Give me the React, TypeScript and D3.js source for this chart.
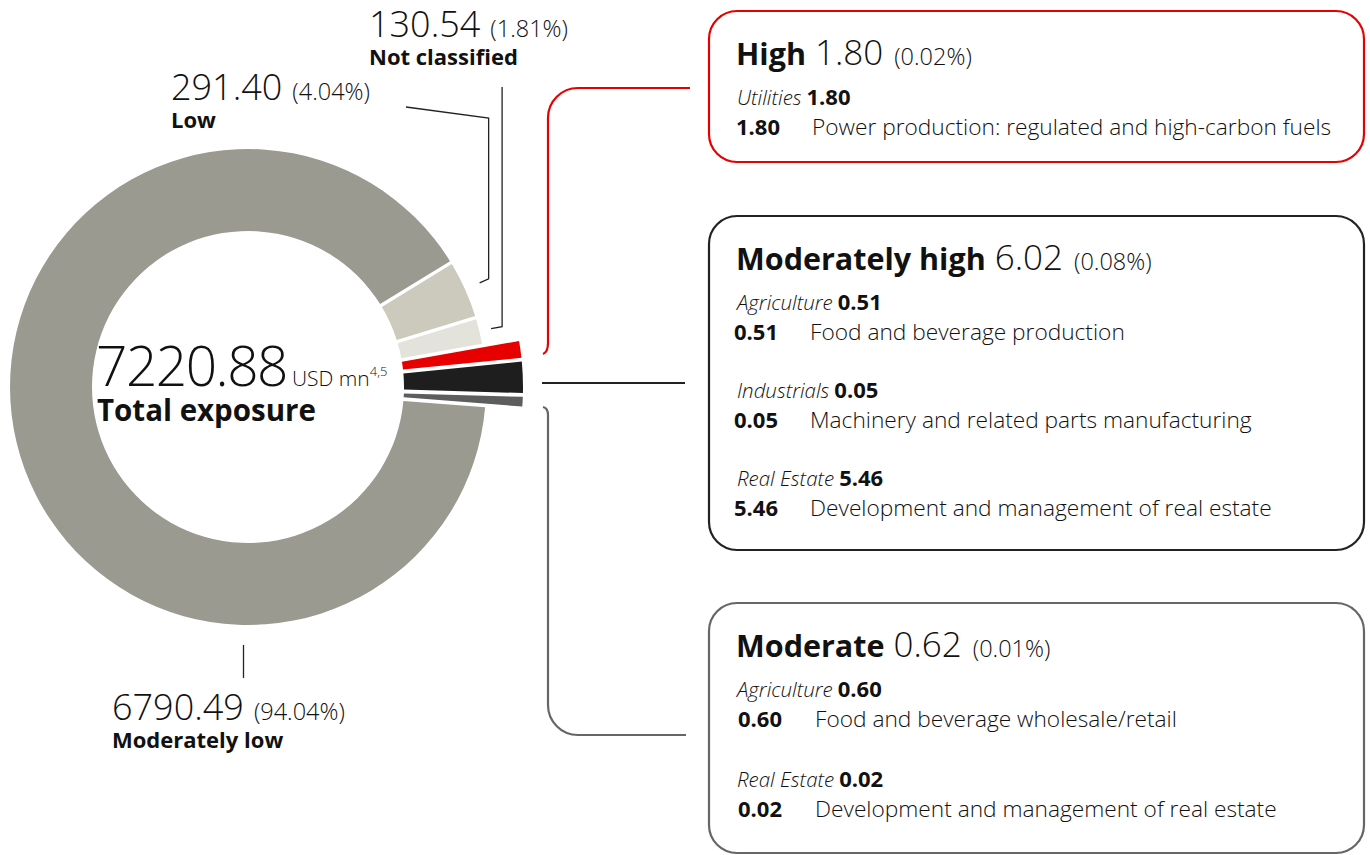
import React, { useEffect, useRef } from "react";
import * as d3 from "d3";

// exposure by climate risk rating, USD mn
const categories = ["Low", "Not classified", "High", "Moderately high", "Moderate", "Moderately low"];
const exposures = [291.4, 130.54, 1.8, 6.02, 0.62, 6790.49];
const shares = ["4.04%", "1.81%", "0.02%", "0.08%", "0.01%", "94.04%"];
const sliceColors = ["#cbcabd", "#e3e3dc", "#e60000", "#1e1e1e", "#5b5e5d", "#9a9a91"];
const totalExposure = "7220.88";

// breakdown boxes
const highSectors = ["Utilities"];
const highValues = ["1.80"];
const highActivities = ["Power production: regulated and high-carbon fuels"];
const modHighSectors = ["Agriculture", "Industrials", "Real Estate"];
const modHighValues = ["0.51", "0.05", "5.46"];
const modHighActivities = [
  "Food and beverage production",
  "Machinery and related parts manufacturing",
  "Development and management of real estate",
];
const moderateSectors = ["Agriculture", "Real Estate"];
const moderateValues = ["0.60", "0.02"];
const moderateActivities = ["Food and beverage wholesale/retail", "Development and management of real estate"];

const FONT = "'Open Sans', 'Noto Sans', sans-serif";

export default function App() {
  const ref = useRef<SVGSVGElement>(null);

  useEffect(() => {
    document.body.style.margin = "0";
    const svg = d3.select(ref.current);
    svg.selectAll("*").remove();
    svg.style("font-family", FONT);

    const cx = 248;
    const cy = 387;
    const inner = 156;
    const outer = 238;
    const outerSmall = 275;
    const deg = Math.PI / 180;

    // tiny ratings are drawn enlarged so they stay visible
    const boost = d3.scaleSqrt().domain([0, 6.02]).range([0, 140]);
    const isSmall = (v: number) => v < 10;
    const start = 58.5 * deg;
    const pie = d3
      .pie<number>()
      .sort(null)
      .value((v) => (isSmall(v) ? boost(v) : v))
      .startAngle(start)
      .endAngle(start + 2 * Math.PI)
      .padAngle(0.012);
    const arcs = pie(exposures);
    const arc = d3
      .arc<d3.PieArcDatum<number>>()
      .innerRadius(inner)
      .outerRadius((d) => (isSmall(d.data) ? outerSmall : outer));

    const donut = svg.append("g").attr("transform", `translate(${cx},${cy})`);
    donut
      .selectAll("path")
      .data(arcs)
      .join("path")
      .attr("d", arc)
      .attr("fill", (d, i) => sliceColors[i]);

    const polar = (a: number, r: number) => [cx + r * Math.sin(a), cy - r * Math.cos(a)];
    const mid = (d: d3.PieArcDatum<number>) => (d.startAngle + d.endAngle) / 2;

    // leader lines
    const lowEnd = polar(mid(arcs[0]), outer + 16);
    const ncEnd = polar(mid(arcs[1]), outer + 12);
    const mlowEnd = polar(Math.PI + 1 * deg, outer + 20);
    const leader = svg.append("g").attr("fill", "none").attr("stroke", "#222").attr("stroke-width", 1.3);
    leader.append("path").attr("d", `M406,107 L${lowEnd[0] + 9},118 V${lowEnd[1] - 4} L${lowEnd[0]},${lowEnd[1]}`);
    leader.append("path").attr("d", `M${ncEnd[0] + 11},87 V${ncEnd[1] - 2} L${ncEnd[0]},${ncEnd[1]}`);
    leader.append("path").attr("d", `M${mlowEnd[0]},${mlowEnd[1]} V${mlowEnd[1] + 33}`);

    // value + share + name label
    const sliceLabel = (i: number, x: number, y: number) => {
      const t = svg.append("text").attr("x", x).attr("y", y).attr("fill", "#111");
      t.append("tspan").attr("font-size", 36).attr("font-weight", 300).text(exposures[i].toFixed(2));
      t.append("tspan").attr("font-size", 23.5).attr("font-weight", 300).attr("dx", 10).text(`(${shares[i]})`);
      svg
        .append("text")
        .attr("x", x)
        .attr("y", y + 28)
        .attr("font-size", 22)
        .attr("font-weight", 700)
        .attr("fill", "#111")
        .text(categories[i]);
    };
    sliceLabel(0, 171, 100);
    sliceLabel(1, 369, 37);
    sliceLabel(5, 112, 720);

    // centre total
    const tot = svg.append("text").attr("x", 96).attr("y", 386).attr("fill", "#111");
    tot.append("tspan").attr("font-size", 55).attr("font-weight", 300).attr("letter-spacing", -1.5).text(totalExposure);
    tot.append("tspan").attr("font-size", 21).attr("font-weight", 300).attr("dx", 5).text("USD mn");
    tot.append("tspan").attr("font-size", 13).attr("font-weight", 300).attr("dy", -10).text("4,5");
    svg
      .append("text")
      .attr("x", 97)
      .attr("y", 421)
      .attr("font-size", 29.5)
      .attr("font-weight", 700)
      .attr("fill", "#111")
      .text("Total exposure");

    // connectors to the boxes
    const conn = svg.append("g").attr("fill", "none").attr("stroke-width", 2.2);
    conn.append("path").attr("stroke", "#e60000").attr("d", "M690,88 H578 A30,30 0 0 0 548,118 V343 Q548,352 543,354");
    conn.append("path").attr("stroke", "#222").attr("d", "M542,383 H685");
    conn.append("path").attr("stroke", "#666").attr("d", "M543,407 Q548,408 548,415 V705 A30,30 0 0 0 578,735 H686");

    // breakdown boxes
    const box = (
      y: number,
      h: number,
      color: string,
      idx: number,
      sectors: string[],
      values: string[],
      acts: string[],
      titleY: number,
      firstY: number,
      step: number,
      numX: number,
      actX: number
    ) => {
      svg
        .append("rect")
        .attr("x", 709)
        .attr("y", y)
        .attr("width", 655)
        .attr("height", h)
        .attr("rx", 28)
        .attr("fill", "white")
        .attr("stroke", color)
        .attr("stroke-width", 2.2);
      const t = svg.append("text").attr("x", 736).attr("y", titleY).attr("fill", "#111");
      t.append("tspan").attr("font-size", 30.5).attr("font-weight", 700).text(categories[idx]);
      t.append("tspan").attr("font-size", 35).attr("font-weight", 300).attr("dx", 9).text(exposures[idx].toFixed(2));
      t.append("tspan").attr("font-size", 23.5).attr("font-weight", 300).attr("dx", 11).text(`(${shares[idx]})`);
      sectors.forEach((s, i) => {
        const sy = firstY + i * step;
        const st = svg.append("text").attr("x", 737).attr("y", sy).attr("font-size", 20.5).attr("fill", "#111");
        st.append("tspan").attr("font-style", "italic").attr("font-weight", 300).text(s);
        st.append("tspan").attr("font-weight", 700).attr("font-size", 22).attr("dx", 5).text(values[i]);
        svg
          .append("text")
          .attr("x", numX)
          .attr("y", sy + 30)
          .attr("font-size", 22)
          .attr("font-weight", 700)
          .attr("fill", "#111")
          .text(values[i]);
        svg
          .append("text")
          .attr("x", actX)
          .attr("y", sy + 30)
          .attr("font-size", 22.7)
          .attr("font-weight", 300)
          .attr("fill", "#111")
          .text(acts[i]);
      });
    };
    box(11, 151, "#e60000", 2, highSectors, highValues, highActivities, 65, 105, 90, 736, 812);
    box(216, 334, "#222", 3, modHighSectors, modHighValues, modHighActivities, 270, 310, 88, 734, 810);
    box(603, 250, "#666", 4, moderateSectors, moderateValues, moderateActivities, 657, 697, 90, 738, 815);
  }, []);

  return <svg ref={ref} width={1370} height={855} style={{ display: "block" }} />;
}
